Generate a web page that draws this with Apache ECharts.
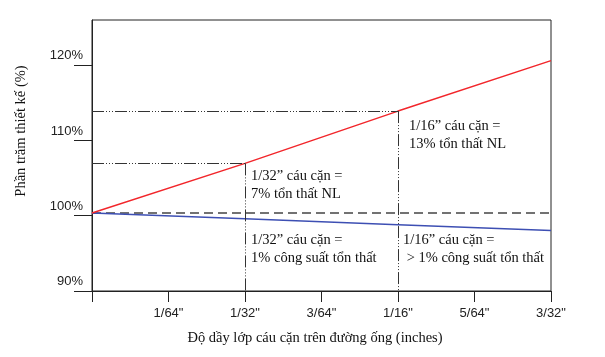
<!DOCTYPE html>
<html>
<head>
<meta charset="utf-8">
<script src="https://cdn.jsdelivr.net/npm/echarts@6/dist/echarts.min.js"></script>
<style>
html,body{margin:0;padding:0;background:#fff;}
#c{width:605px;height:357px;}
</style>
</head>
<body>
<div id="c"></div>
<script>
// x positions in 64ths of an inch
const xSamples = [0, 2, 4, 6];
const xTickLabels = ['', '1/64"', '1/32"', '3/64"', '1/16"', '5/64"', '3/32"'];
const yTickValues = [90, 100, 110, 120];
// % of design
const fuelUse = [100.35, 106.95, 113.9, 120.6];
const powerOutput = [100.35, 99.6, 98.8, 98.05];
const designLevel = [100.35, 100.35, 100.35, 100.35];
const xAxisTitle = 'Độ dầy lớp cáu cặn trên đường ống (inches)';
const yAxisTitle = 'Phần trăm thiết kế (%)';
// annotations: anchored at sample index on a series
const noteIndex = [1, 2, 1, 2];
const noteSeries = ['fuel', 'fuel', 'design', 'design'];
const noteLines = [
  ['1/32” cáu cặn =', '7% tổn thất NL'],
  ['1/16” cáu cặn =', '13% tổn thất NL'],
  ['1/32” cáu cặn =', '1% công suất tổn thất'],
  ['1/16” cáu cặn =', ' > 1% công suất tổn thất']
];

const chart = echarts.init(document.getElementById('c'), null, {renderer: 'canvas'});
const pts = a => xSamples.map((x, i) => [x, a[i]]);
const dashDot = [12, 2, 1, 2, 1, 2, 1, 2];
const guideStyle = {color: '#333', width: 1, type: dashDot};

const guides = [];
[1, 2].forEach(i => {
  guides.push([{coord: [xSamples[0], fuelUse[i]]}, {coord: [xSamples[i], fuelUse[i]]}]);
  guides.push([{coord: [xSamples[i], fuelUse[i]]}, {coord: [xSamples[i], 90]}]);
});

chart.setOption({
  animation: false,
  grid: {left: 92, right: 54, top: 20, bottom: 66, show: true, borderColor: '#222', borderWidth: 1},
  xAxis: {
    type: 'value', min: 0, max: 6, interval: 1,
    axisLine: {lineStyle: {color: '#222', width: 1}},
    axisTick: {show: true, length: 11, lineStyle: {color: '#222', width: 1}},
    splitLine: {show: false},
    axisLabel: {
      margin: 16, color: '#222', fontFamily: 'Liberation Sans, Arial', fontSize: 13,
      formatter: v => xTickLabels[Math.round(v)] || ''
    }
  },
  yAxis: {
    type: 'value', min: 90, max: 126, interval: 10,
    axisLine: {show: true, lineStyle: {color: '#222', width: 1}},
    axisTick: {show: true, length: 18, customValues: yTickValues, lineStyle: {color: '#222', width: 1}},
    splitLine: {show: false},
    axisLabel: {
      customValues: yTickValues,
      margin: 9, color: '#222', fontFamily: 'Liberation Sans, Arial', fontSize: 13,
      verticalAlign: 'bottom', lineHeight: 13, padding: [0, 0, 3, 0],
      formatter: v => v + '%'
    }
  },
  series: [
    {
      type: 'line', data: pts(designLevel), symbol: 'none', z: 2,
      lineStyle: {color: '#444', width: 1.5, type: [9, 5]}
    },
    {
      type: 'line', data: pts(powerOutput), symbol: 'none', z: 3,
      lineStyle: {color: '#3d4fb3', width: 1.5}
    },
    {
      type: 'line', data: pts(fuelUse), symbol: 'none', z: 4,
      lineStyle: {color: '#f2262b', width: 1.5},
      markLine: {silent: true, symbol: 'none', label: {show: false}, lineStyle: guideStyle, data: guides}
    }
  ]
});

const noteOffset = [[6, 4], [11, 6], [6, 18], [5, 18]];
const seriesMap = {fuel: fuelUse, design: designLevel};
const graphics = [];
noteLines.forEach((lines, k) => {
  const i = noteIndex[k];
  const p = chart.convertToPixel({gridIndex: 0}, [xSamples[i], seriesMap[noteSeries[k]][i]]);
  graphics.push({
    type: 'text', left: null, x: p[0] + noteOffset[k][0], y: p[1] + noteOffset[k][1],
    style: {text: lines.join('\n'), font: '14.5px "Liberation Serif", "Times New Roman", serif', fill: '#111', lineHeight: 18, textAlign: 'left', textVerticalAlign: 'top'}
  });
});
graphics.push({
  type: 'text', x: 315, y: 338,
  style: {text: xAxisTitle, font: '14.5px "Liberation Serif", "Times New Roman", serif', fill: '#111', textAlign: 'center', textVerticalAlign: 'middle'}
});
graphics.push({
  type: 'text', x: 21, y: 131, rotation: Math.PI / 2,
  style: {text: yAxisTitle, font: '14.5px "Liberation Serif", "Times New Roman", serif', fill: '#111', textAlign: 'center', textVerticalAlign: 'middle'}
});
chart.setOption({graphic: graphics});
</script>
</body>
</html>
